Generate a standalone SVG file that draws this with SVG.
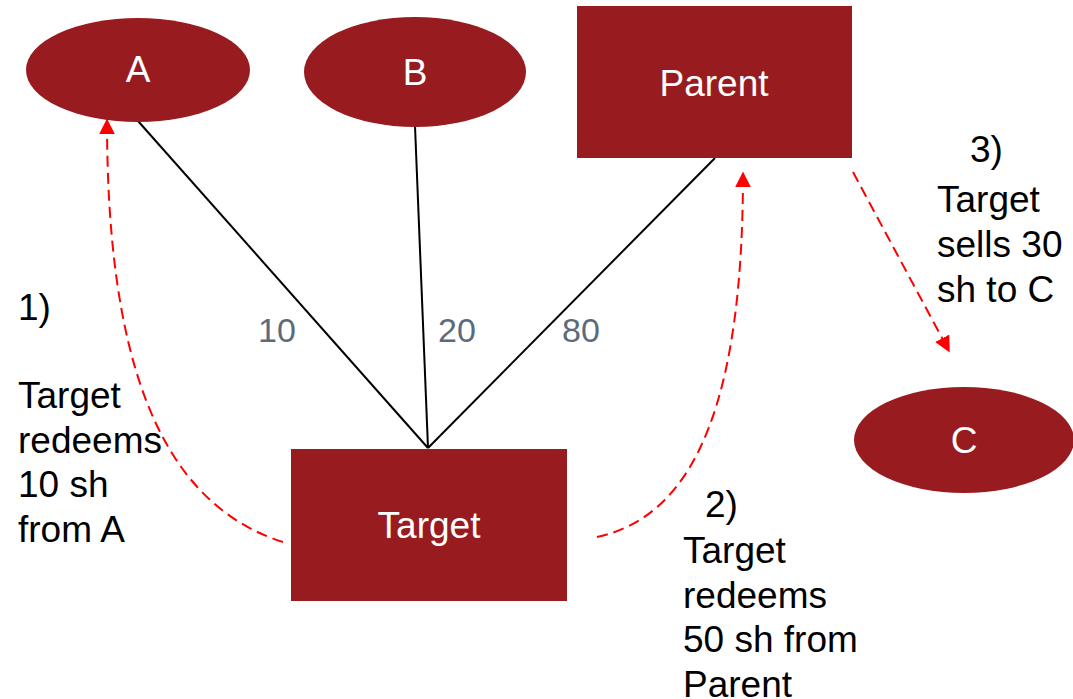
<svg xmlns="http://www.w3.org/2000/svg" width="1073" height="699" viewBox="0 0 1073 699">
  <style>
    .node { fill: #981b1f; }
    .lbl { font-family: "Liberation Sans", Arial, sans-serif; font-size: 37px; fill: #ffffff; text-anchor: middle; }
    .link { stroke: #000000; stroke-width: 2; fill: none; }
    .flow { stroke: #ff0000; stroke-width: 2; stroke-dasharray: 11 6; fill: none; marker-end: url(#head); }
    .pct { font-family: "Liberation Sans", Arial, sans-serif; font-size: 34px; fill: #5b6b7a; }
    .note { font-family: "Liberation Sans", Arial, sans-serif; font-size: 37px; fill: #000000; }
  </style>
  <defs>
    <marker id="head" viewBox="0 0 10 10" refX="9" refY="5" markerWidth="8" markerHeight="8" markerUnits="strokeWidth" orient="auto">
      <path d="M0,0 L10,5 L0,10 Z" fill="#ff0000"/>
    </marker>
  </defs>
  <rect width="1073" height="699" fill="#ffffff"/>

  <!-- ownership links and transaction flows -->
  <g id="connectors">
    <line class="link" x1="138" y1="121" x2="428" y2="448"/>
    <line class="link" x1="415" y1="126" x2="428" y2="448"/>
    <line class="link" x1="715" y1="158" x2="428" y2="448"/>
    <path class="flow" d="M283,542 C150,500 107,340 107,120"/>
    <path class="flow" d="M597,537 C700,515 743,390 743,173"/>
    <line class="flow" x1="853" y1="172" x2="949" y2="351"/>
  </g>

  <g id="node-a">
    <ellipse class="node" cx="138" cy="70" rx="112" ry="52"/>
    <text class="lbl" x="138" y="82">A</text>
  </g>
  <g id="node-b">
    <ellipse class="node" cx="415" cy="72" rx="111" ry="55"/>
    <text class="lbl" x="415" y="85">B</text>
  </g>
  <g id="node-parent">
    <rect class="node" x="577" y="6" width="275" height="152"/>
    <text class="lbl" x="714" y="96">Parent</text>
  </g>
  <g id="node-target">
    <rect class="node" x="291" y="449" width="276" height="152"/>
    <text class="lbl" x="429" y="538">Target</text>
  </g>
  <g id="node-c">
    <ellipse class="node" cx="964" cy="440" rx="110" ry="53"/>
    <text class="lbl" x="964" y="453">C</text>
  </g>

  <!-- holding percentages -->
  <g id="percentages">
    <text class="pct" x="258" y="342">10</text>
    <text class="pct" x="438" y="342">20</text>
    <text class="pct" x="562" y="342">80</text>
  </g>

  <!-- step notes -->
  <g id="step-1">
    <text class="note" x="18" y="320">1)</text>
    <text class="note" x="18" y="408">Target</text>
    <text class="note" x="18" y="453">redeems</text>
    <text class="note" x="18" y="497">10 sh</text>
    <text class="note" x="18" y="542">from A</text>
  </g>
  <g id="step-2">
    <text class="note" x="705" y="517">2)</text>
    <text class="note" x="683" y="563">Target</text>
    <text class="note" x="683" y="608">redeems</text>
    <text class="note" x="683" y="652">50 sh from</text>
    <text class="note" x="683" y="697">Parent</text>
  </g>
  <g id="step-3">
    <text class="note" x="970" y="162">3)</text>
    <text class="note" x="937" y="212">Target</text>
    <text class="note" x="937" y="257">sells 30</text>
    <text class="note" x="937" y="302">sh to C</text>
  </g>
</svg>
